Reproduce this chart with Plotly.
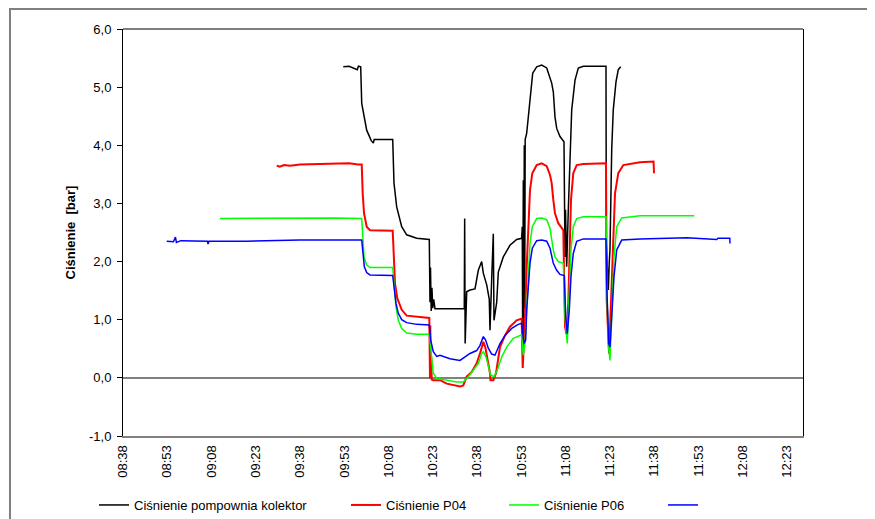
import plotly.graph_objects as go

DAY = "2000-01-01 "

# Ciśnienie pompownia kolektor (black)
kolektor_t = ["09:53:02", "09:55:00", "09:57:47", "09:58:10", "09:58:56", "09:59:17", "10:00:58", "10:02:05",
              "10:02:30", "10:03:13", "10:03:30", "10:09:47", "10:10:13", "10:11:08", "10:12:50", "10:14:31",
              "10:17:55", "10:22:11", "10:22:25", "10:22:35", "10:22:50", "10:23:05", "10:23:20", "10:23:40",
              "10:24:07", "10:34:02", "10:34:10", "10:34:20", "10:34:51", "10:35:58", "10:37:40", "10:38:47",
              "10:39:56", "10:40:29", "10:41:38", "10:42:30", "10:42:45", "10:43:19", "10:43:52", "10:44:06",
              "10:45:01", "10:45:34", "10:47:15", "10:49:31", "10:51:47", "10:53:29", "10:53:41", "10:53:50",
              "10:54:02", "10:54:10", "10:54:22", "10:54:30", "10:54:40", "10:55:11", "10:55:43", "10:56:18",
              "10:57:13", "10:58:34", "11:00:16", "11:01:58", "11:03:05", "11:03:39", "11:04:12", "11:04:32",
              "11:04:46", "11:05:21", "11:06:28", "11:07:49", "11:08:10", "11:08:20", "11:08:30", "11:08:44",
              "11:09:17", "11:09:51", "11:10:26", "11:11:33", "11:12:40", "11:14:22", "11:22:03", "11:22:10",
              "11:22:30", "11:22:50", "11:23:10", "11:23:24", "11:23:59", "11:24:31", "11:25:26", "11:26:13",
              "11:27:02"]
kolektor_v = [5.35, 5.36, 5.30, 5.36, 5.35, 4.72, 4.26, 4.12,
              4.08, 4.04, 4.10, 4.10, 3.35, 2.94, 2.60, 2.46,
              2.40, 2.38, 1.30, 1.90, 1.15, 1.55, 1.20, 1.35,
              1.19, 1.19, 2.74, 0.59, 1.48, 1.51, 1.53, 1.85,
              2.00, 1.80, 1.60, 1.35, 0.82, 1.70, 2.48, 0.99,
              1.30, 1.82, 2.08, 2.28, 2.38, 2.40, 2.60, 0.36,
              3.40, 0.60, 4.00, 1.20, 4.10, 4.21, 4.49, 4.89,
              5.24, 5.35, 5.38, 5.33, 5.18, 5.07, 4.92, 4.66,
              4.49, 4.29, 4.15, 4.06, 2.08, 2.89, 1.95, 1.91,
              2.90, 3.92, 4.61, 5.12, 5.33, 5.36, 5.36, 2.31,
              1.90, 1.51, 2.00, 2.20, 3.92, 4.61, 5.09, 5.30,
              5.35]

# Ciśnienie P04 (red)
p04_t = ["09:30:29", "09:31:30", "09:33:00", "09:35:00", "09:38:22", "09:45:00", "09:50:00", "09:55:00",
         "09:58:00", "09:59:17", "09:59:37", "10:00:04", "10:00:58", "10:02:05", "10:09:47", "10:10:13",
         "10:10:34", "10:11:20", "10:12:50", "10:14:31", "10:17:55", "10:22:11", "10:22:25", "10:22:32",
         "10:22:39", "10:22:50", "10:23:00", "10:23:32", "10:25:49", "10:28:05", "10:30:19", "10:32:35",
         "10:33:42", "10:34:51", "10:36:33", "10:38:14", "10:39:22", "10:40:29", "10:41:09", "10:41:58",
         "10:42:45", "10:42:55", "10:43:52", "10:44:47", "10:46:08", "10:47:50", "10:49:31", "10:51:47",
         "10:53:29", "10:53:50", "10:54:16", "10:54:37", "10:55:11", "10:55:43", "10:56:18", "10:57:05",
         "10:58:34", "11:00:16", "11:01:58", "11:03:05", "11:03:39", "11:04:12", "11:04:46", "11:05:53",
         "11:07:35", "11:08:10", "11:08:40", "11:09:17", "11:09:37", "11:10:11", "11:10:58", "11:12:07",
         "11:14:22", "11:22:03", "11:22:17", "11:22:50", "11:23:05", "11:23:59", "11:24:31", "11:25:06",
         "11:26:13", "11:27:55", "11:33:34", "11:38:10", "11:38:19"]
p04_v = [3.65, 3.63, 3.66, 3.65, 3.67, 3.68, 3.68, 3.69,
         3.67, 3.67, 3.17, 2.83, 2.60, 2.54, 2.53, 2.03,
         1.62, 1.37, 1.17, 1.07, 1.05, 1.03, -0.01, 0.90,
         -0.01, 0.35, -0.03, -0.04, -0.04, -0.10, -0.12, -0.15,
         -0.13, 0.02, 0.10, 0.25, 0.42, 0.62, 0.53, 0.30,
         0.08, -0.04, -0.04, 0.08, 0.53, 0.73, 0.88, 0.99,
         1.02, 0.17, 0.59, 1.05, 1.91, 2.71, 3.23, 3.52,
         3.66, 3.69, 3.64, 3.49, 3.35, 3.06, 2.83, 2.66,
         2.54, 0.88, 0.75, 1.30, 2.20, 3.06, 3.52, 3.66,
         3.68, 3.69, 1.34, 0.48, 0.42, 1.62, 2.49, 3.17,
         3.52, 3.66, 3.71, 3.72, 3.52]

# Ciśnienie P06 (green)
p06_t = ["09:11:16", "09:30:00", "09:50:00", "09:59:17", "09:59:37", "10:00:04", "10:00:58", "10:02:05",
         "10:09:47", "10:10:13", "10:10:54", "10:11:41", "10:12:50", "10:14:31", "10:17:55", "10:22:11",
         "10:22:59", "10:23:32", "10:24:41", "10:28:05", "10:31:28", "10:33:42", "10:35:24", "10:37:05",
         "10:38:47", "10:39:56", "10:40:29", "10:41:23", "10:42:10", "10:42:59", "10:44:06", "10:45:13",
         "10:46:43", "10:48:24", "10:50:38", "10:52:55", "10:53:29", "10:54:02", "10:54:37", "10:55:11",
         "10:55:43", "10:56:18", "10:57:05", "10:58:34", "11:00:16", "11:01:58", "11:03:05", "11:03:39",
         "11:04:12", "11:04:46", "11:05:53", "11:07:35", "11:08:10", "11:08:56", "11:09:37", "11:10:11",
         "11:10:58", "11:12:07", "11:14:22", "11:22:03", "11:22:17", "11:22:50", "11:23:24", "11:23:59",
         "11:24:46", "11:25:41", "11:27:22", "11:33:34", "11:51:58"]
p06_v = [2.74, 2.75, 2.75, 2.74, 2.43, 2.08, 1.94, 1.90,
         1.90, 1.62, 1.22, 0.99, 0.85, 0.77, 0.75, 0.75,
         0.36, 0.08, -0.01, -0.04, -0.07, -0.07, 0.02, 0.13,
         0.25, 0.42, 0.45, 0.36, 0.19, 0.05, 0.02, 0.13,
         0.36, 0.53, 0.68, 0.73, 0.74, 0.39, 0.59, 1.17,
         1.74, 2.31, 2.60, 2.74, 2.75, 2.72, 2.57, 2.37,
         2.20, 2.08, 2.00, 1.97, 1.05, 0.59, 1.62, 2.20,
         2.60, 2.74, 2.77, 2.77, 1.62, 0.59, 0.30, 1.05,
         2.08, 2.60, 2.75, 2.79, 2.79]

# unnamed series (blue)
blue_t = ["08:53:13", "08:55:30", "08:56:10", "08:56:30", "08:58:00", "09:07:00", "09:07:12", "09:07:30",
          "09:20:00", "09:38:22", "09:59:17", "09:59:37", "10:00:10", "10:00:58", "10:02:05", "10:09:47",
          "10:10:13", "10:10:54", "10:11:41", "10:12:50", "10:14:31", "10:17:55", "10:22:11", "10:22:39",
          "10:23:32", "10:24:41", "10:25:49", "10:29:11", "10:32:35", "10:34:17", "10:35:58", "10:38:14",
          "10:39:22", "10:40:29", "10:41:16", "10:42:10", "10:43:19", "10:44:26", "10:46:08", "10:47:50",
          "10:50:06", "10:52:20", "10:53:29", "10:54:16", "10:54:50", "10:55:11", "10:55:43", "10:56:18",
          "10:57:05", "10:58:34", "11:00:16", "11:01:58", "11:03:05", "11:03:39", "11:04:12", "11:05:21",
          "11:06:28", "11:07:55", "11:08:24", "11:08:56", "11:09:37", "11:10:11", "11:10:58", "11:12:07",
          "11:14:22", "11:22:03", "11:22:17", "11:22:58", "11:23:24", "11:23:59", "11:24:46", "11:25:41",
          "11:27:22", "11:33:34", "11:44:04", "11:49:29", "11:59:34", "12:00:00", "12:04:00", "12:04:04"]
blue_v = [2.35, 2.34, 2.42, 2.33, 2.36, 2.35, 2.30, 2.35,
          2.35, 2.37, 2.37, 2.14, 1.91, 1.81, 1.77, 1.76,
          1.57, 1.28, 1.11, 1.00, 0.95, 0.92, 0.91, 0.65,
          0.45, 0.37, 0.39, 0.33, 0.30, 0.36, 0.42, 0.47,
          0.56, 0.71, 0.65, 0.51, 0.41, 0.39, 0.59, 0.73,
          0.85, 0.92, 0.94, 0.59, 0.65, 1.17, 1.62, 1.97,
          2.23, 2.36, 2.37, 2.35, 2.23, 2.08, 1.97, 1.85,
          1.78, 1.76, 1.05, 0.76, 1.17, 1.74, 2.14, 2.35,
          2.39, 2.39, 1.62, 0.59, 0.53, 1.05, 1.74, 2.20,
          2.37, 2.39, 2.40, 2.41, 2.38, 2.40, 2.40, 2.31]

series_names = ["Ciśnienie pompownia kolektor", "Ciśnienie P04", "Ciśnienie P06", " "]
series_colors = ["#000000", "#FF0000", "#00FF00", "#0000FF"]
series_widths = [1.5, 2, 1.5, 1.5]
series_t = [kolektor_t, p04_t, p06_t, blue_t]
series_v = [kolektor_v, p04_v, p06_v, blue_v]

y_ticks = [-1, 0, 1, 2, 3, 4, 5, 6]
y_tick_text = ["-1,0", "0,0", "1,0", "2,0", "3,0", "4,0", "5,0", "6,0"]

FONT = "Arial, 'Liberation Sans', sans-serif"
OFF = 8  # page body margin offset (screen px = figure px + OFF)
W, H = 875 - OFF, 519 - OFF
# plot area in screen pixels: x 123..803, y 29..436
L, T = 123 - OFF, 29 - OFF
R, B = W - (803 - OFF), H - (436 - OFF)
PW, PH = W - L - R, H - T - B

def px_to_paper_x(px):  # px in screen coords
    return (px - OFF - L) / PW

def py_to_paper_y(py):  # py in screen coords
    return (H - B - (py - OFF)) / PH

fig = go.Figure()
legend_names = ["legend", "legend2", "legend3", "legend4"]
legend_line_x = [99, 351, 509, 668]
for i in range(4):
    fig.add_trace(go.Scatter(
        x=[DAY + t for t in series_t[i]], y=series_v[i], mode="lines", name=series_names[i],
        line=dict(color=series_colors[i], width=series_widths[i]), legend=legend_names[i]))

legend_common = dict(orientation="h", font=dict(family=FONT, size=13, color="#000000"),
                     bgcolor="rgba(0,0,0,0)", borderwidth=0, xanchor="left", yanchor="middle",
                     itemwidth=30)
layout_legends = {}
for i, ln in enumerate(legend_names):
    layout_legends[ln] = dict(legend_common, x=px_to_paper_x(legend_line_x[i] - 5), y=py_to_paper_y(505))

fig.update_layout(
    width=W, height=H,
    margin=dict(l=L, r=R, t=T, b=B, pad=0, autoexpand=False),
    paper_bgcolor="white", plot_bgcolor="white",
    font=dict(family=FONT, size=13, color="#000000"),
    showlegend=True,
    **layout_legends,
    xaxis=dict(
        type="date", automargin=False,
        range=[DAY + "08:38:24", DAY + "12:28:48"],
        tick0=DAY + "08:38:24", dtick=900000, tickformat="%H:%M", tickangle=-90,
        showgrid=False, zeroline=False, showline=True, linecolor="#808080", linewidth=2,
        ticks="", ticklabelstandoff=2, tickfont=dict(family=FONT, size=13, color="#000000"),
    ),
    yaxis=dict(
        automargin=False,
        range=[-1, 6], tickvals=y_ticks, ticktext=y_tick_text,
        showgrid=False, zeroline=True, zerolinecolor="#808080", zerolinewidth=1.5,
        showline=True, linecolor="#000000", linewidth=1, mirror=True,
        ticks="outside", ticklen=5, tickcolor="#000000", tickwidth=1,
        ticklabelstandoff=3,
        tickfont=dict(family=FONT, size=13, color="#000000"),
        title=dict(text="<b>Ciśnienie \u00a0[bar]</b>", font=dict(family=FONT, size=13, color="#000000"),
                   standoff=10),
    ),
    shapes=[
        dict(type="line", xref="paper", yref="paper", x0=0, x1=1, y0=1, y1=1,
             line=dict(color="#000000", width=1)),
        dict(type="rect", xref="paper", yref="paper",
             x0=px_to_paper_x(10), x1=px_to_paper_x(871), y0=py_to_paper_y(530), y1=py_to_paper_y(9),
             line=dict(color="#808080", width=2), fillcolor="rgba(0,0,0,0)", layer="above"),
    ],
)

fig.write_html("out.html")
